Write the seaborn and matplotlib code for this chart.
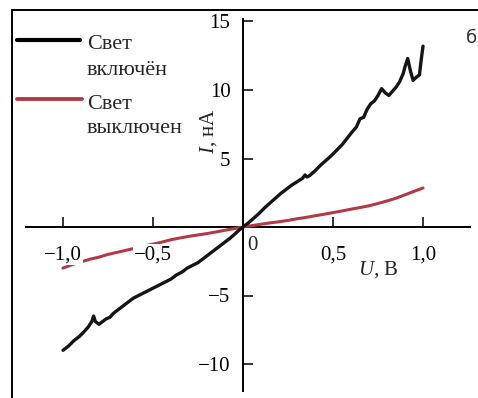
import matplotlib
matplotlib.use("Agg")
import matplotlib.pyplot as plt
import seaborn as sns
import pandas as pd
from matplotlib.lines import Line2D

# Current-voltage curves of the sample with the light on and off
u_on = [-1.00, -0.97, -0.94, -0.91, -0.88, -0.86, -0.84, -0.83, -0.82, -0.80,
        -0.78, -0.76, -0.74, -0.72, -0.70, -0.68, -0.66, -0.64, -0.61, -0.58,
        -0.55, -0.52, -0.49, -0.46, -0.43, -0.40, -0.37, -0.34, -0.31, -0.28,
        -0.25, -0.22, -0.19, -0.16, -0.13, -0.10, -0.07, -0.04, -0.02, 0.00,
        0.03, 0.06, 0.09, 0.12, 0.15, 0.18, 0.21, 0.24, 0.27, 0.30,
        0.33, 0.345, 0.355, 0.37, 0.40, 0.43, 0.46, 0.49, 0.52, 0.55,
        0.58, 0.61, 0.63, 0.65, 0.67, 0.69, 0.71, 0.73, 0.75, 0.77,
        0.79, 0.81, 0.83, 0.85, 0.87, 0.89, 0.90, 0.915, 0.93, 0.945,
        0.96, 0.98, 0.99, 1.00]
i_on = [-9.0, -8.7, -8.3, -8.0, -7.6, -7.3, -6.9, -6.5, -6.9, -7.1,
        -6.9, -6.7, -6.6, -6.3, -6.1, -5.9, -5.7, -5.5, -5.2, -5.0,
        -4.8, -4.6, -4.4, -4.2, -4.0, -3.8, -3.5, -3.3, -3.0, -2.8,
        -2.6, -2.3, -2.0, -1.7, -1.4, -1.1, -0.8, -0.45, -0.2, 0.0,
        0.3, 0.65, 1.0, 1.4, 1.75, 2.1, 2.45, 2.75, 3.05, 3.3,
        3.55, 3.8, 3.65, 3.75, 4.1, 4.5, 4.85, 5.2, 5.6, 6.0,
        6.5, 7.0, 7.3, 7.9, 8.0, 8.6, 9.0, 9.2, 9.6, 10.1,
        9.8, 9.6, 9.9, 10.2, 10.6, 11.2, 11.7, 12.3, 11.4, 10.7,
        10.9, 11.1, 12.2, 13.2]

u_off = [-1.00, -0.95, -0.90, -0.85, -0.80, -0.75, -0.70, -0.65, -0.60, -0.55,
         -0.50, -0.45, -0.40, -0.35, -0.30, -0.25, -0.20, -0.15, -0.10, -0.05,
         0.00, 0.05, 0.10, 0.15, 0.20, 0.25, 0.30, 0.35, 0.40, 0.45,
         0.50, 0.55, 0.60, 0.65, 0.70, 0.75, 0.80, 0.85, 0.90, 0.95, 1.00]
i_off = [-3.0, -2.75, -2.55, -2.35, -2.2, -2.0, -1.85, -1.7, -1.55, -1.4,
         -1.25, -1.1, -0.93, -0.8, -0.68, -0.58, -0.48, -0.36, -0.24, -0.12,
         0.0, 0.1, 0.2, 0.3, 0.38, 0.48, 0.6, 0.7, 0.82, 0.93,
         1.05, 1.17, 1.3, 1.42, 1.55, 1.72, 1.9, 2.1, 2.35, 2.6, 2.85]

x_ticks = [-1.0, -0.5, 0.5, 1.0]
x_tick_labels = ["\u22121,0", "\u22120,5", "0,5", "1,0"]
y_ticks = [-10, -5, 5, 10, 15]
y_tick_labels = ["\u221210", "\u22125", "5", "10", "15"]

label_on = ["Свет", "включён"]
label_off = ["Свет", "выключен"]

sns.set_theme(style="white")
plt.rcParams["font.family"] = ["Liberation Serif", "DejaVu Serif"]
plt.rcParams["mathtext.fontset"] = "custom"
plt.rcParams["mathtext.it"] = "Liberation Serif:italic"
plt.rcParams["mathtext.rm"] = "Liberation Serif"

W, H = 478, 398
fig = plt.figure(figsize=(W / 100, H / 100), dpi=100)
ax = fig.add_axes([0, 0, 1, 1])
ax.set_facecolor("white")


def px(x, y):
    """Pixel position (from top-left) to figure/axes fraction."""
    return x / W, 1 - y / H


df_on = pd.DataFrame({"U": u_on, "I": i_on})
df_off = pd.DataFrame({"U": u_off, "I": i_off})

red = "#b23a47"
sns.lineplot(data=df_off, x="U", y="I", ax=ax, color=red, lw=2.2,
             sort=False, estimator=None, zorder=3)
sns.lineplot(data=df_on, x="U", y="I", ax=ax, color="#151515", lw=2.4,
             sort=False, estimator=None, zorder=3)

# data limits so that 1 V = 180 px and 1 nA = 13.7 px
ax.set_xlim(-243 / 180, (W - 243) / 180)
ax.set_ylim((227 - H) / 13.7, 227 / 13.7)

for s in ("top", "right"):
    ax.spines[s].set_visible(False)
ax.spines["left"].set_position(("data", 0))
ax.spines["bottom"].set_position(("data", 0))
ax.spines["left"].set_bounds(-12.0, 15.2)
ax.spines["bottom"].set_bounds(-1.206, 1.26)
for s in ("left", "bottom"):
    ax.spines[s].set_color("black")
    ax.spines[s].set_linewidth(1.4)

ax.set_xticks(x_ticks)
ax.set_xticklabels(x_tick_labels)
ax.set_yticks(y_ticks)
ax.set_yticklabels(y_tick_labels)
ax.tick_params(axis="x", direction="in", length=7.5, width=1.1, pad=13,
               labelsize=15, colors="black", bottom=True)
ax.tick_params(axis="y", direction="in", length=7.5, width=1.1, pad=9,
               labelsize=15, colors="black", left=True)
for t in ax.get_xticklabels():
    t.set_bbox(dict(facecolor="white", edgecolor="none", pad=0.5))
ax.xaxis.set_zorder(5)
ax.set_xlabel("")
ax.set_ylabel("")
ax.grid(False)

# origin label and axis titles
ax.text(0.053, -1.35, "0", fontsize=15, ha="center", va="center")
ax.text(0.75, -3.14, "$U$, В", fontsize=15, ha="center", va="center")
ax.text(-0.194, 7.0, "$I$, нА", fontsize=15, ha="center", va="center",
        rotation=90)

# legend keys
x0, x1 = px(17, 0)[0], px(80, 0)[0]
ax.add_line(Line2D([x0, x1], [px(0, 40)[1]] * 2, transform=ax.transAxes,
                   color="black", lw=3.0))
ax.add_line(Line2D([x0, px(82, 0)[0]], [px(0, 99)[1]] * 2,
                   transform=ax.transAxes, color=red, lw=2.8))
for txt, yb in zip(label_on + label_off, [49, 75, 109, 133]):
    ax.text(*px(87, yb), txt, transform=ax.transAxes, fontsize=16,
            ha="left", va="baseline")

# panel letter
ax.text(*px(466, 38), "б", transform=ax.transAxes, fontsize=13,
        ha="left", va="center", color="#333333", family="DejaVu Sans")

# frame around the panel
fig.add_artist(Line2D([px(12, 0)[0], 1.01], [px(0, 10)[1]] * 2,
                      transform=fig.transFigure, color="black", lw=1.4))
fig.add_artist(Line2D([px(12, 0)[0]] * 2, [px(0, 10)[1], -0.01],
                      transform=fig.transFigure, color="black", lw=1.4))

fig.savefig("out.png", dpi=100, facecolor="white")
